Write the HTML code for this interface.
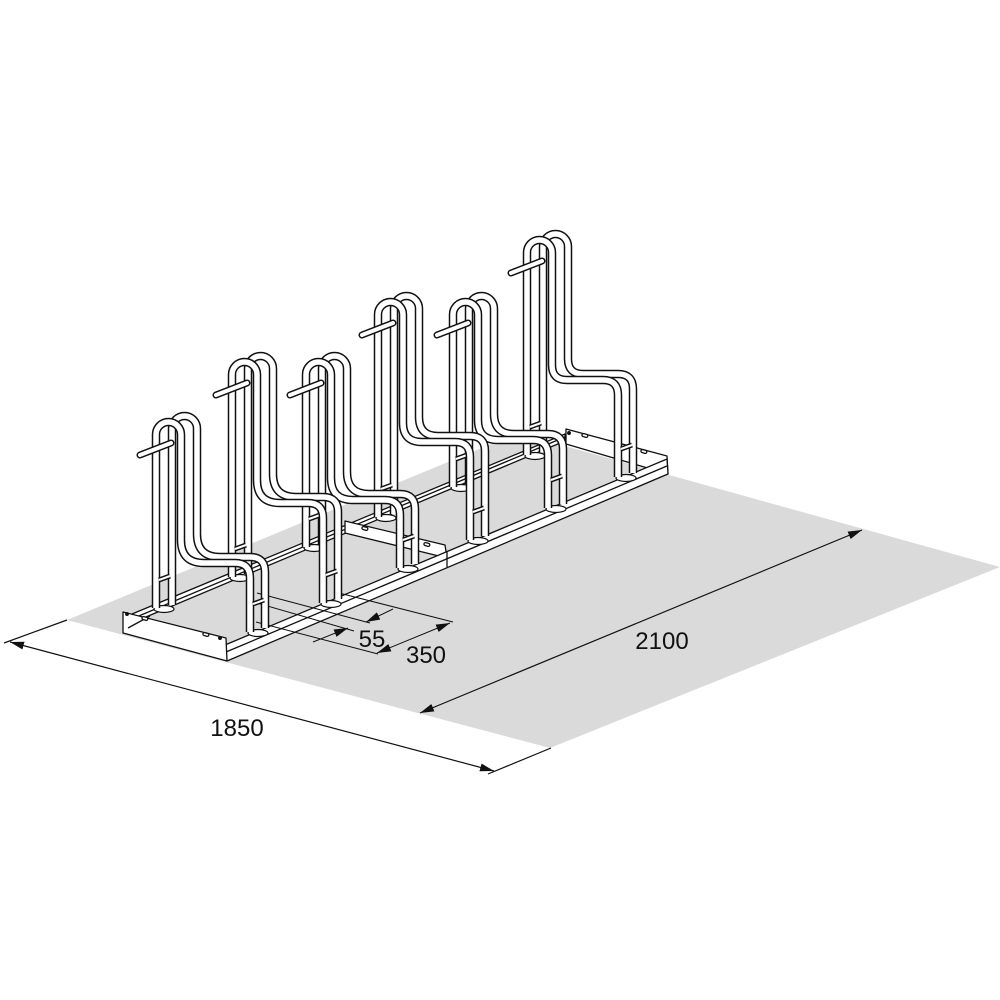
<!DOCTYPE html>
<html><head><meta charset="utf-8"><style>
html,body{margin:0;padding:0;background:#fff;}
svg{display:block;}
text{font-family:"Liberation Sans Narrow","Liberation Sans",sans-serif;font-size:24px;fill:#111;}
</style></head><body>
<svg width="1000" height="1000" viewBox="0 0 1000 1000" xmlns="http://www.w3.org/2000/svg">
<defs>
<marker id="ar" viewBox="0 0 14 8" refX="14" refY="4" markerWidth="14" markerHeight="8" markerUnits="userSpaceOnUse" orient="auto-start-reverse">
<path d="M0,0 L14,4 L0,8 Z" fill="#111"/></marker>
</defs>
<rect width="1000" height="1000" fill="#fff"/>
<polygon points="67,620 518,433 1000,567 550,748" fill="#dadada"/>

<g stroke="#111" stroke-width="1.2" fill="none">
<line x1="4" y1="643" x2="67" y2="620"/>
<line x1="488" y1="774" x2="551" y2="748"/>
<line x1="10" y1="642" x2="494" y2="771" marker-start="url(#ar)" marker-end="url(#ar)"/>
<line x1="420" y1="713" x2="862" y2="530" marker-start="url(#ar)" marker-end="url(#ar)"/>
</g>
<text x="237" y="736" text-anchor="middle">1850</text>
<text x="662" y="649" text-anchor="middle">2100</text>

<g stroke="#111" stroke-width="1.3" fill="#fff" stroke-linejoin="round">
<polygon points="132,614 565,434 565,441 134,622"/>
<line x1="134" y1="618" x2="565" y2="437"/>
<polygon points="566,429 667,456 668,474 566,444"/>
<circle cx="569" cy="433" r="1.3" fill="#111"/>
<rect x="582" y="434" width="6" height="3" rx="1.5" transform="rotate(15 585 435)"/>
<rect x="641" y="450" width="6" height="3" rx="1.5" transform="rotate(15 644 451)"/>
<polygon points="345,521 445,545 447,558 345,533"/>
<rect x="362" y="527" width="6" height="3" rx="1.5" transform="rotate(15 365 528)"/>
<rect x="424" y="543" width="6" height="3" rx="1.5" transform="rotate(15 427 544)"/>
<polygon points="225,645 667,459 668,474 227,661"/>
<line x1="226" y1="652" x2="667" y2="466"/>
<line x1="447" y1="552" x2="447" y2="567"/>
<polygon points="123,612 226,638 227,661 123,633"/>
<line x1="128" y1="628" x2="150" y2="616"/>
<circle cx="127" cy="614" r="1.3" fill="#111"/>
<circle cx="220" cy="638" r="1.3" fill="#111"/>
<rect x="142" y="617" width="6" height="3" rx="1.5" transform="rotate(15 145 618)"/>
<rect x="203" y="633" width="6" height="3" rx="1.5" transform="rotate(15 206 634)"/>
</g>

<g stroke="#111" stroke-width="1" fill="none">
<line x1="257" y1="593" x2="370" y2="623"/>
<line x1="250" y1="601" x2="354" y2="631"/>
<line x1="335" y1="592" x2="453" y2="622"/>
<line x1="256" y1="622" x2="378" y2="654"/>
<line x1="393" y1="609" x2="366" y2="622" marker-end="url(#ar)"/>
<line x1="313" y1="642" x2="348" y2="628" marker-end="url(#ar)"/>
<line x1="377" y1="653" x2="450" y2="623" marker-start="url(#ar)" marker-end="url(#ar)"/>
</g>
<text x="372" y="647" text-anchor="middle">55</text>
<text x="426" y="663" text-anchor="middle">350</text>

<g id="stands" fill="none" stroke-linecap="butt" stroke-linejoin="round"></g>
<script>
(function(){
var S=[
[527,455,240,365,380,618,477],
[453,487,302,420,440,548,508],
[378,517,302,423,442,470,540],
[306,547,362,478,500,400,568],
[232,577,362,480,503,323,603],
[156,608,422,540,563,250,632]];
var g=document.getElementById('stands');var ns='http://www.w3.org/2000/svg';
function el(n,a){var e=document.createElementNS(ns,n);for(var k in a)e.setAttribute(k,a[k]);g.appendChild(e);return e;}
function tube(d,w,cap){el('path',{d:d,stroke:'#111','stroke-width':w,'stroke-linecap':cap||'butt'});el('path',{d:d,stroke:'#fff','stroke-width':w-3,'stroke-linecap':cap||'butt'});}
function tp(rx,rb,top,sy,hy,fx,fb){var w=25,R=w/2,r=hy-sy;var x2=rx+w;
return 'M'+rx+' '+rb+' V'+(top+R)+' A'+R+' '+R+' 0 0 1 '+x2+' '+(top+R)+' V'+sy+' Q'+x2+' '+hy+' '+(x2+r)+' '+hy+' H'+(fx-15)+' Q'+fx+' '+hy+' '+fx+' '+(hy+15)+' V'+fb;}
S.forEach(function(s){
var rx=s[0],rb=s[1],top=s[2],sy=s[3],hy=s[4],fx=s[5],fb=s[6];
[[rx+8,rb+1],[fx+8,fb+1]].forEach(function(p){el('ellipse',{cx:p[0],cy:p[1],rx:10,ry:3.5,fill:'#fff',stroke:'#111','stroke-width':1.2});});
tube(tp(rx+16,rb-3,top-6,sy-6,hy-6,fx+15,fb-4),8.5);
tube(tp(rx,rb,top,sy,hy,fx,fb),8.5);
tube('M'+(rx-16)+' '+(top+33)+' L'+(rx+15)+' '+(top+21),7,'round');
tube('M'+(rx+3)+' '+(rb-28)+' L'+(rx+14)+' '+(rb-32),5);
tube('M'+(fx+3)+' '+(fb-28)+' L'+(fx+14)+' '+(fb-32),5);
});
})();
</script>
</svg>
</body></html>
